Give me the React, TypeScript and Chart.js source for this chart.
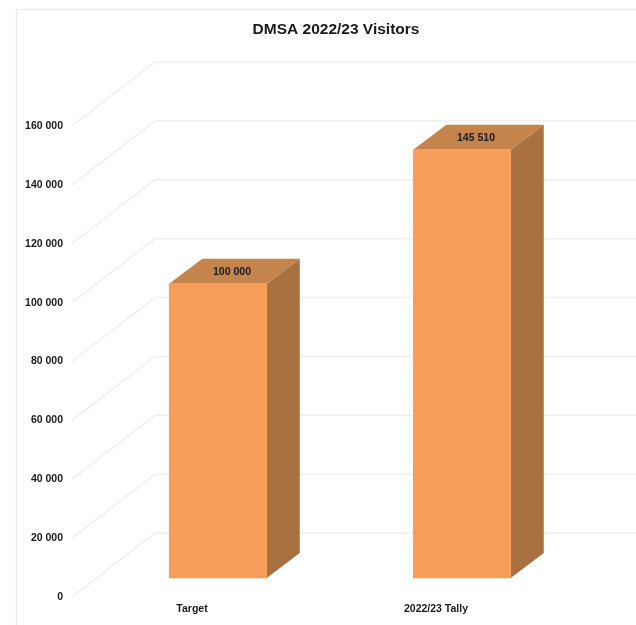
import React, { useEffect, useRef } from "react";
import { Chart, registerables } from "chart.js";

Chart.register(...registerables);

const categories = ["Target", "2022/23 Tally"];
const visitors = [100000, 145510];
const axisMax = 160000;
const axisStep = 20000;

const chartTitle = "DMSA 2022/23 Visitors";
const fontFamily = "'Liberation Sans', Arial, sans-serif";

const frontColor = "#F79F5A";
const sideColor = "#A8713F";
const topColor = "#C4844C";
const gridColor = "#F0EFED";
const frameColor = "#EDEBE9";
const textColor = "#1A1A1A";

// Perspective offsets of the extruded plot
const barLift = 19;
const barDepthX = 33;
const barDepthY = 25;
const wallStartX = 72;
const wallX = 155;
const wallRise = 64;

const formatThousands = (v: number) =>
  String(v).replace(/\B(?=(\d{3})+(?!\d))/g, " ");

const perspectivePlugin = {
  id: "perspective",
  beforeDraw(chart: any) {
    const { ctx, width, height } = chart;
    ctx.save();
    ctx.fillStyle = "#FFFFFF";
    ctx.fillRect(0, 0, width, height);
    ctx.strokeStyle = frameColor;
    ctx.lineWidth = 1.5;
    ctx.beginPath();
    ctx.moveTo(16.5, height);
    ctx.lineTo(16.5, 9.5);
    ctx.lineTo(width, 9.5);
    ctx.stroke();
    // Heading, centred over the plot rather than the canvas
    ctx.fillStyle = textColor;
    ctx.font = `bold 15.5px ${fontFamily}`;
    ctx.textAlign = "center";
    ctx.textBaseline = "middle";
    ctx.fillText(chartTitle, 336, 30);
    ctx.restore();
  },
  beforeDatasetsDraw(chart: any) {
    const { ctx, width, scales } = chart;
    ctx.save();
    // Floor and back wall lines for every tick
    ctx.strokeStyle = gridColor;
    ctx.lineWidth = 1.5;
    scales.y.ticks.forEach((t: any) => {
      const py = scales.y.getPixelForValue(t.value);
      ctx.beginPath();
      ctx.moveTo(wallStartX, py);
      ctx.lineTo(wallX, py - wallRise);
      ctx.lineTo(width, py - wallRise);
      ctx.stroke();
    });
    // Side and top faces of each bar
    chart.getDatasetMeta(0).data.forEach((bar: any) => {
      const right = bar.x + bar.width / 2;
      const left = bar.x - bar.width / 2;
      const top = bar.y - barLift;
      const bottom = bar.base - barLift;
      ctx.fillStyle = sideColor;
      ctx.beginPath();
      ctx.moveTo(right, top);
      ctx.lineTo(right + barDepthX, top - barDepthY);
      ctx.lineTo(right + barDepthX, bottom - barDepthY);
      ctx.lineTo(right, bottom);
      ctx.closePath();
      ctx.fill();
      ctx.fillStyle = topColor;
      ctx.beginPath();
      ctx.moveTo(left, top);
      ctx.lineTo(left + barDepthX, top - barDepthY);
      ctx.lineTo(right + barDepthX, top - barDepthY);
      ctx.lineTo(right, top);
      ctx.closePath();
      ctx.fill();
    });
    ctx.restore();
  },
  beforeDatasetDraw(chart: any) {
    chart.ctx.save();
    chart.ctx.translate(0, -barLift);
  },
  afterDatasetDraw(chart: any) {
    chart.ctx.restore();
  },
  afterDatasetsDraw(chart: any) {
    const { ctx } = chart;
    ctx.save();
    ctx.fillStyle = textColor;
    ctx.font = `bold 10.5px ${fontFamily}`;
    ctx.textAlign = "center";
    ctx.textBaseline = "middle";
    chart.getDatasetMeta(0).data.forEach((bar: any, i: number) => {
      ctx.fillText(formatThousands(visitors[i]), bar.x + 14, bar.y - barLift - 12);
    });
    ctx.restore();
  },
};

export default function App() {
  const ref = useRef<HTMLCanvasElement>(null);

  useEffect(() => {
    const chart = new Chart(ref.current as HTMLCanvasElement, {
      type: "bar",
      data: {
        labels: categories,
        datasets: [
          {
            data: visitors,
            backgroundColor: frontColor,
            borderWidth: 0,
            barThickness: 97.5,
            clip: false,
          } as any,
        ],
      },
      options: {
        responsive: false,
        animation: false,
        layout: { padding: { left: 0, right: 52, top: 126, bottom: 0 } },
        plugins: {
          legend: { display: false },
          tooltip: { enabled: false },
          title: { display: false },
        },
        scales: {
          x: {
            grid: { display: false, drawTicks: false },
            border: { display: false },
            ticks: {
              color: textColor,
              font: { family: fontFamily, size: 10.5, weight: "bold" },
              padding: 6,
              labelOffset: -26,
              maxRotation: 0,
              autoSkip: false,
            },
            afterFit(scale: any) {
              scale.height = 28;
            },
          },
          y: {
            min: 0,
            max: axisMax,
            grid: { display: false, drawTicks: false },
            border: { display: false },
            ticks: {
              stepSize: axisStep,
              color: textColor,
              font: { family: fontFamily, size: 10.5, weight: "bold" },
              padding: 33,
              callback: (v: any) => formatThousands(Number(v)),
            },
            // Tick padding sets the horizontal gap only, so it must not reserve room above and below
            afterFit(scale: any) {
              scale.width = 96;
              scale.paddingTop = 0;
              scale.paddingBottom = 0;
            },
          },
        },
      } as any,
      plugins: [perspectivePlugin],
    });
    return () => chart.destroy();
  }, []);

  return (
    <div style={{ position: "absolute", left: 0, top: 0, width: 636, height: 625 }}>
      <canvas ref={ref} width={636} height={625} style={{ display: "block" }} />
    </div>
  );
}
